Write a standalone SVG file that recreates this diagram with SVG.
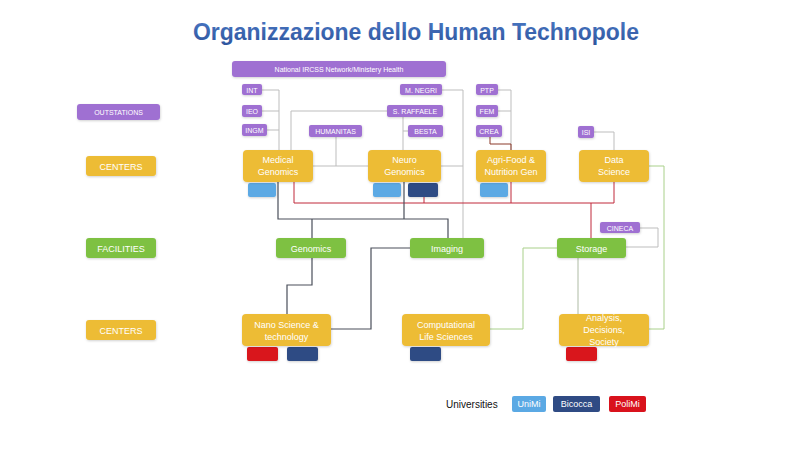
<svg xmlns="http://www.w3.org/2000/svg" width="800" height="450" viewBox="0 0 800 450">
<defs>
<filter id="sh" x="-10%" y="-10%" width="130%" height="140%"><feDropShadow dx="0.5" dy="1" stdDeviation="0.8" flood-color="#000" flood-opacity="0.18"/></filter>
<linearGradient id="tg" x1="0" y1="0" x2="0" y2="1"><stop offset="0" stop-color="#4A78C4"/><stop offset="1" stop-color="#2E559E"/></linearGradient>
</defs>
<style>
.t{font-family:"Liberation Sans",Arial,sans-serif;fill:#fff;text-anchor:middle}
.p{fill:#9F70D2}
.y{fill:#EDBC36}
.g{fill:#7EC142}
.um{fill:#5BA9E4}
.bi{fill:#2F4B84}
.pm{fill:#D9121C}
.box{filter:url(#sh)}
.s7{font-size:7px}
.s9{font-size:9px}
.s10{font-size:10px}
.lg{fill:none;stroke:#BDBDBD;stroke-width:1}
.dk{fill:none;stroke:#4A4F5A;stroke-width:1.2}
.rd{fill:none;stroke:#C0283A;stroke-width:1}
.br{fill:none;stroke:#8B3A2A;stroke-width:1}
.gr{fill:none;stroke:#A9D08A;stroke-width:1}
.gy{fill:none;stroke:#AEBBA4;stroke-width:1}
</style>
<rect width="800" height="450" fill="#fff"/>
<text x="416" y="40" font-family="'Liberation Sans',Arial,sans-serif" font-weight="bold" font-size="24" fill="url(#tg)" text-anchor="middle" textLength="446" lengthAdjust="spacingAndGlyphs">Organizzazione dello Human Technopole</text>

<g id="connectors">
<!-- outstations to medical -->
<path class="lg" d="M262,90 H279 V150 M262,111 H279 M267,130 H279"/>
<path class="lg" d="M387,111 H291 V150"/>
<path class="lg" d="M403,117 V150 M408,131 H403"/>
<path class="lg" d="M336,137 V166 M313,166 H368"/>
<path class="lg" d="M442,90 H463 V238 M441,166 H463"/>
<path class="lg" d="M498,90 H511 V150 M498,111 H511"/>
<path class="br" d="M490,137 V144 H511 V150"/>
<path class="lg" d="M594,132 H614 V150"/>
<path class="lg" d="M640,228 H658 V247 H626"/>
<path class="gr" d="M649,166 H664 V329 H649"/>
<!-- red -->
<path class="rd" d="M294,182 V203 H614 V182 M424,197 V203 M511,182 V203 M591,203 V238"/>
<!-- dark -->
<path class="dk" d="M278,182 V219 H448 V238 M404,182 V219 M312,219 V238"/>
<path class="dk" d="M312,258 V285 H287 V314"/>
<path class="dk" d="M410,248 H371 V329 H331"/>
<path class="gr" d="M557,248 H523 V329 H490"/>
<path class="gy" d="M578,258 V314"/>
</g>

<g id="national"><rect class="p box" x="232" y="61" width="214" height="16" rx="3"/><text class="t s7" x="339" y="72">National  IRCSS Network/Ministery Health</text></g>

<g id="lbl-outstations"><rect class="p box" x="77" y="104" width="83" height="16" rx="3"/><text class="t s7" x="118.5" y="115">OUTSTATIONS</text></g>
<g id="lbl-centers1"><rect class="y box" x="86" y="156" width="70" height="20" rx="3"/><text class="t s9" x="121" y="169.5">CENTERS</text></g>
<g id="lbl-facilities"><rect class="g box" x="86" y="238" width="70" height="20" rx="3"/><text class="t s9" x="121" y="251.5">FACILITIES</text></g>
<g id="lbl-centers2"><rect class="y box" x="86" y="320" width="70" height="20" rx="3"/><text class="t s9" x="121" y="333.5">CENTERS</text></g>

<g id="int"><rect class="p box" x="242" y="84" width="20" height="11" rx="2"/><text class="t s7" x="252" y="92.5">INT</text></g>
<g id="ieo"><rect class="p box" x="242" y="105" width="20" height="12" rx="2"/><text class="t s7" x="252" y="113.5">IEO</text></g>
<g id="ingm"><rect class="p box" x="242" y="124" width="25" height="12" rx="2"/><text class="t s7" x="254.5" y="132.5">INGM</text></g>
<g id="humanitas"><rect class="p box" x="309" y="125" width="53" height="12" rx="2"/><text class="t s7" x="335.5" y="133.5">HUMANITAS</text></g>
<g id="mnegri"><rect class="p box" x="400" y="84" width="42" height="11" rx="2"/><text class="t s7" x="421" y="92.5">M. NEGRI</text></g>
<g id="sraffaele"><rect class="p box" x="387" y="105" width="56" height="12" rx="2"/><text class="t s7" x="415" y="113.5">S. RAFFAELE</text></g>
<g id="besta"><rect class="p box" x="408" y="125" width="35" height="12" rx="2"/><text class="t s7" x="425.5" y="133.5">BESTA</text></g>
<g id="ptp"><rect class="p box" x="476" y="84" width="22" height="11" rx="2"/><text class="t s7" x="487" y="92.5">PTP</text></g>
<g id="fem"><rect class="p box" x="476" y="105" width="22" height="12" rx="2"/><text class="t s7" x="487" y="113.5">FEM</text></g>
<g id="crea"><rect class="p box" x="476" y="125" width="26" height="12" rx="2"/><text class="t s7" x="489" y="133.5">CREA</text></g>
<g id="isi"><rect class="p box" x="578" y="126" width="16" height="12" rx="2"/><text class="t s7" x="586" y="134.5">ISI</text></g>
<g id="cineca"><rect class="p box" x="600" y="222" width="40" height="11" rx="2"/><text class="t s7" x="620" y="230.5">CINECA</text></g>

<g id="medical"><rect class="um box" x="248" y="183" width="28" height="14" rx="2"/><rect class="y box" x="243" y="150" width="70" height="32" rx="4"/><text class="t s9" x="278" y="163">Medical</text><text class="t s9" x="278" y="175">Genomics</text></g>
<g id="neuro"><rect class="um box" x="373" y="183" width="28" height="14" rx="2"/><rect class="bi box" x="408" y="183" width="30" height="14" rx="2"/><rect class="y box" x="368" y="150" width="73" height="32" rx="4"/><text class="t s9" x="404.5" y="163">Neuro</text><text class="t s9" x="404.5" y="175">Genomics</text></g>
<g id="agri"><rect class="um box" x="480" y="183" width="28" height="14" rx="2"/><rect class="y box" x="476" y="150" width="70" height="32" rx="4"/><text class="t s9" x="511" y="163">Agri-Food &amp;</text><text class="t s9" x="511" y="175">Nutrition Gen</text></g>
<g id="data"><rect class="y box" x="579" y="150" width="70" height="32" rx="4"/><text class="t s9" x="614" y="163">Data</text><text class="t s9" x="614" y="175">Science</text></g>

<g id="genomics"><rect class="g box" x="276" y="238" width="70" height="20" rx="3"/><text class="t s9" x="311" y="251.5">Genomics</text></g>
<g id="imaging"><rect class="g box" x="410" y="238" width="74" height="20" rx="3"/><text class="t s9" x="447" y="251.5">Imaging</text></g>
<g id="storage"><rect class="g box" x="557" y="238" width="69" height="20" rx="3"/><text class="t s9" x="591.5" y="251.5">Storage</text></g>

<g id="nano"><rect class="pm box" x="247" y="347" width="31" height="14" rx="2"/><rect class="bi box" x="287" y="347" width="31" height="14" rx="2"/><rect class="y box" x="242" y="314" width="89" height="32" rx="4"/><text class="t s9" x="286.5" y="328">Nano Science &amp;</text><text class="t s9" x="286.5" y="340">technology</text></g>
<g id="comp"><rect class="bi box" x="410" y="347" width="31" height="14" rx="2"/><rect class="y box" x="402" y="314" width="88" height="32" rx="4"/><text class="t s9" x="446" y="328">Computational</text><text class="t s9" x="446" y="340">Life Sciences</text></g>
<g id="analysis"><rect class="pm box" x="566" y="347" width="31" height="14" rx="2"/><rect class="y box" x="559" y="314" width="90" height="32" rx="4"/><text class="t s9" x="604" y="321">Analysis,</text><text class="t s9" x="604" y="333">Decisions,</text><text class="t s9" x="604" y="345">Society</text></g>

<g id="legend">
<text x="446" y="408" font-family="'Liberation Sans',Arial,sans-serif" font-size="10" fill="#111">Universities</text>
<rect class="um" x="512" y="396" width="34" height="16" rx="2"/><text class="t s9" x="529" y="407">UniMi</text>
<rect class="bi" x="553" y="396" width="47" height="16" rx="2"/><text class="t s9" x="576.5" y="407">Bicocca</text>
<rect class="pm" x="609" y="396" width="37" height="16" rx="2"/><text class="t s9" x="627.5" y="407">PoliMi</text>
</g>
</svg>
